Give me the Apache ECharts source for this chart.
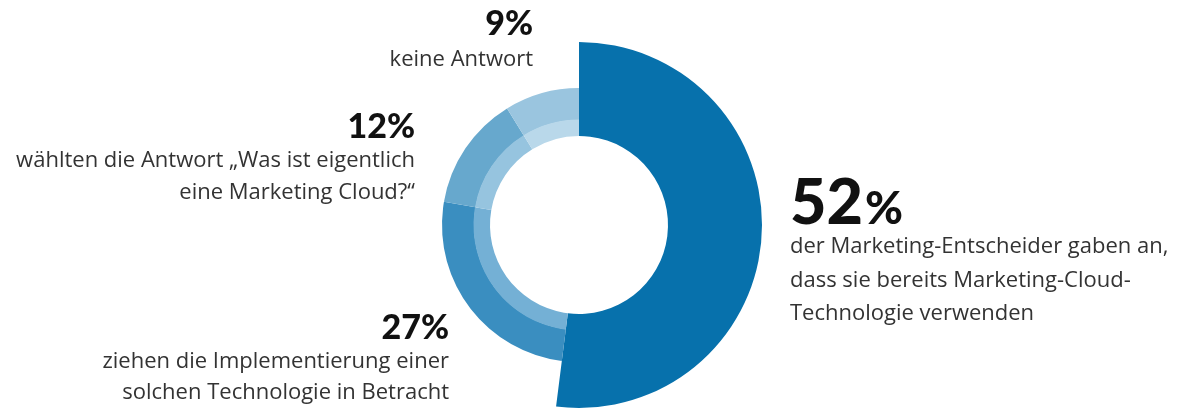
<!DOCTYPE html>
<html>
<head>
<meta charset="utf-8">
<style>
html,body{margin:0;padding:0;background:#fff;}
#chart{width:1181px;height:410px;}
</style>
<script src="https://cdn.jsdelivr.net/npm/echarts@6/dist/echarts.min.js"></script>
</head>
<body>
<div id="chart"></div>
<script>
// Data
const categories = ['verwenden bereits', 'ziehen in Betracht', 'Was ist eine Marketing Cloud?', 'keine Antwort'];
// slice sizes as drawn in the picture (labels state 52 / 27 / 12 / 9)
const values = [52, 25.7, 13.5, 8.8];
const percentLabels = ['52', '27%', '12%', '9%'];
const descriptions = [
  ['der Marketing-Entscheider gaben an,', 'dass sie bereits Marketing-Cloud-', 'Technologie verwenden'],
  ['ziehen die Implementierung einer', 'solchen Technologie in Betracht'],
  ['wählten die Antwort „Was ist eigentlich', 'eine Marketing Cloud?“'],
  ['keine Antwort']
];

// Styling
const outerColors = ['#0771ac', '#3a8ec0', '#67a8cd', '#9ac5df'];
const innerColors = ['#0771ac', '#74b0d5', '#96c4df', '#b9d8ea'];
const CENTER = [579, 225];
const bodyFont = '"Open Sans", "Noto Sans", sans-serif';
const boldFont = 'Lato, "Open Sans", sans-serif';

function pieData(colorsFn) {
  return categories.map((c, i) => ({
    name: c, value: values[i],
    itemStyle: { color: colorsFn(i), borderWidth: 0 }
  }));
}
const base = {
  type: 'pie', center: CENTER, startAngle: 90, clockwise: true,
  silent: true, animation: false, label: { show: false }, labelLine: { show: false },
  emphasis: { disabled: true }, avoidLabelOverlap: false
};
const series = [
  Object.assign({}, base, { radius: [89, 183], data: pieData(i => i === 0 ? outerColors[0] : 'rgba(0,0,0,0)') }),
  Object.assign({}, base, { radius: [105, 137], data: pieData(i => i === 0 ? 'rgba(0,0,0,0)' : outerColors[i]) }),
  Object.assign({}, base, { radius: [89, 105.5], data: pieData(i => i === 0 ? 'rgba(0,0,0,0)' : innerColors[i]) })
];

// Text layout
const textLayout = [
  { x: 790, py: 203, ly: 247, gap: 33.5, align: 'left' },
  { x: 449, py: 328, ly: 362, gap: 31, align: 'right' },
  { x: 415, py: 127, ly: 161, gap: 32, align: 'right' },
  { x: 533, py: 24, ly: 60, gap: 32, align: 'right' }
];
const graphics = [];
textLayout.forEach((L, i) => {
  if (i === 0) {
    graphics.push({
      type: 'text', left: L.x, top: L.py - 31,
      style: {
        text: '{a|' + percentLabels[0] + '}{b|%}',
        rich: {
          a: { fontFamily: boldFont, fontWeight: 900, fontSize: 63, fill: '#111' },
          b: { fontFamily: boldFont, fontWeight: 900, fontSize: 46, fill: '#111', padding: [12, 0, 0, 2] }
        }
      }
    });
  } else {
    graphics.push({
      type: 'text', x: L.x, y: L.py,
      style: { text: percentLabels[i], textAlign: L.align, textVerticalAlign: 'middle',
        fontFamily: boldFont, fontWeight: 900, fontSize: 34, fill: '#111' }
    });
  }
  descriptions[i].forEach((line, j) => {
    graphics.push({
      type: 'text', x: L.x, y: L.ly + j * L.gap,
      style: { text: line, textAlign: L.align, textVerticalAlign: 'middle',
        fontFamily: bodyFont, fontWeight: 400, fontSize: 22, fill: '#333' }
    });
  });
});

const chart = echarts.init(document.getElementById('chart'), null, { renderer: 'canvas' });
chart.setOption({
  backgroundColor: '#ffffff',
  animation: false,
  series: series,
  graphic: graphics
});
</script>
</body>
</html>
